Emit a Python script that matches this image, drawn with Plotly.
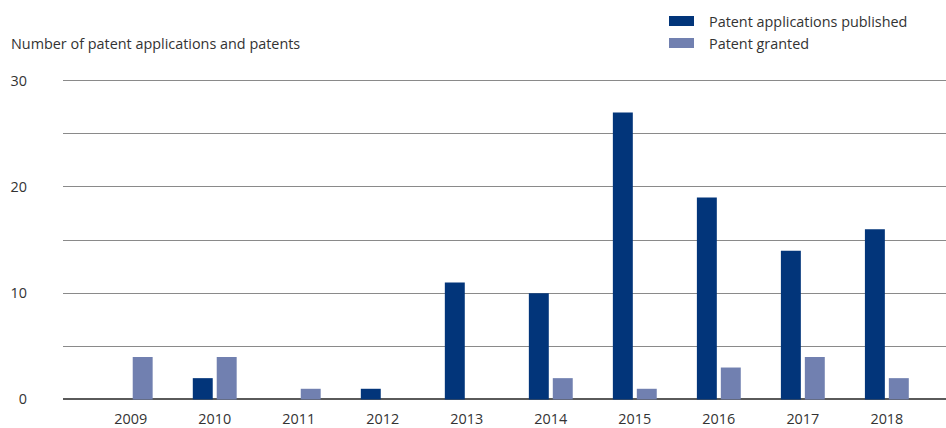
import plotly.graph_objects as go

years = ["2009", "2010", "2011", "2012", "2013", "2014", "2015", "2016", "2017", "2018"]
published = [0, 2, 0, 1, 11, 10, 27, 19, 14, 16]
granted = [4, 4, 1, 0, 0, 2, 1, 3, 4, 2]
y_ticks = [0, 10, 20, 30]
y_grid = [5, 15, 25]

C_PUB = "#02357a"
C_GR = "#7180b0"
FONT = "Open Sans, Noto Sans, sans-serif"
FS = 14.4

W, H = 946, 428
ML, MR, MT, MB = 63, 0, 79, 27

fig = go.Figure()
fig.add_trace(go.Bar(x=years, y=published, name="Patent applications published",
                     marker=dict(color=C_PUB, line=dict(width=0)), showlegend=False))
fig.add_trace(go.Bar(x=years, y=granted, name="Patent granted",
                     marker=dict(color=C_GR, line=dict(width=0)), showlegend=False))

fig.update_layout(
    width=W, height=H,
    margin=dict(l=ML, r=MR, t=MT, b=MB, autoexpand=False),
    paper_bgcolor="white", plot_bgcolor="white",
    barmode="group", bargap=0.43, bargroupgap=0.167,
    font=dict(family=FONT, size=FS, color="#333333"),
    xaxis=dict(type="category", range=[-0.806, 9.704], showgrid=False, showline=False,
               ticks="", tickfont=dict(size=FS, color="#333333"), ticklabelstandoff=8),
    yaxis=dict(range=[-0.15, 30.15], tickvals=y_ticks, showgrid=True, gridcolor="#8a8a8a",
               gridwidth=1, zeroline=True, zerolinecolor="#5a5a5a", zerolinewidth=2,
               showline=False, ticks="", tickfont=dict(size=FS, color="#333333"),
               ticklabelstandoff=35,
               minor=dict(tickvals=y_grid, showgrid=True, gridcolor="#8a8a8a", gridwidth=1)),
)

def px_x(x):
    return (x - ML) / (W - ML - MR)

def px_y(y):
    return (H - MB - y) / (H - MB - MT)

fig.add_annotation(x=px_x(9), y=px_y(43), xref="paper", yref="paper",
                   text="Number of patent applications and patents",
                   showarrow=False, xanchor="left", yanchor="middle",
                   font=dict(size=FS, color="#333333"))

legend_items = [("Patent applications published", C_PUB, 21), ("Patent granted", C_GR, 43)]
for label, col, yc in legend_items:
    fig.add_shape(type="rect", xref="paper", yref="paper",
                  x0=px_x(669), x1=px_x(694), y0=px_y(yc - 5), y1=px_y(yc + 5),
                  fillcolor=col, line=dict(width=0))
    fig.add_annotation(x=px_x(707), y=px_y(yc), xref="paper", yref="paper", text=label,
                       showarrow=False, xanchor="left", yanchor="middle",
                       font=dict(size=FS, color="#333333"))

fig.write_html("out.html", config={"displayModeBar": False},
               post_script="document.body.style.margin='0';document.body.style.padding='0';")
